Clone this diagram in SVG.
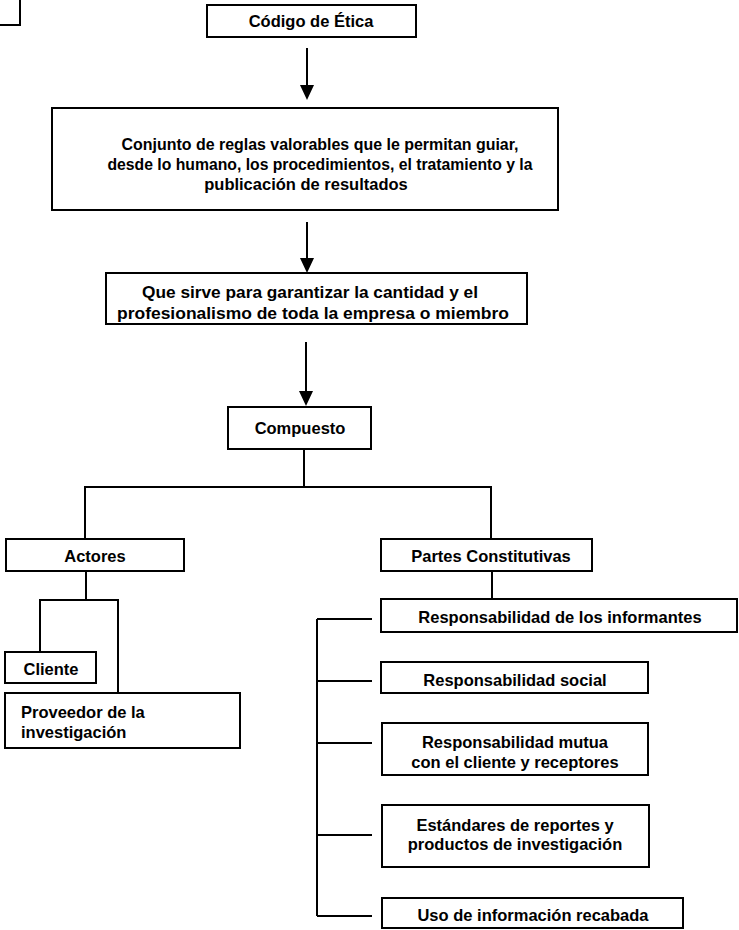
<svg xmlns="http://www.w3.org/2000/svg" width="739" height="930" viewBox="0 0 739 930">
<defs>
<style>
.box{fill:#fff;stroke:#000;stroke-width:2}
.ln{fill:none;stroke:#000;stroke-width:2}
.head{fill:#000}
text{font-family:"Liberation Sans",Arial,sans-serif;font-size:16.5px;font-weight:bold;fill:#000}
.c{text-anchor:middle}
</style>
</defs>
<rect width="739" height="930" fill="#fff"/>
<g id="connectors">
<path class="ln" d="M0,25 H20 V0"/>
<line class="ln" x1="307" y1="48" x2="307" y2="86"/>
<path class="head" d="M300,85 L314,85 L307,100 Z"/>
<line class="ln" x1="307" y1="222" x2="307" y2="259"/>
<path class="head" d="M300,258 L314,258 L307,273 Z"/>
<line class="ln" x1="306" y1="342" x2="306" y2="392"/>
<path class="head" d="M299,391 L313,391 L306,406 Z"/>
<path class="ln" d="M304,449 V487 M85,539 V487 H491 V539"/>
<path class="ln" d="M86,571 V600 M40,652 V600 H118 V693"/>
<path class="ln" d="M492,571 V599"/>
<path class="ln" d="M317,619 V916 M317,619 H372 M317,681 H372 M317,743 H372 M317,835 H372 M317,916 H372"/>
</g>
<g id="codigo">
<rect class="box" x="207" y="5" width="209" height="32"/>
<text class="c" x="311" y="27">Código de Ética</text>
</g>
<g id="conjunto">
<rect class="box" x="52" y="108" width="506" height="102"/>
<text class="c" x="320" y="150" textLength="397" lengthAdjust="spacingAndGlyphs">Conjunto de reglas valorables que le permitan guiar,</text>
<text class="c" x="320" y="170" textLength="425" lengthAdjust="spacingAndGlyphs">desde lo humano, los procedimientos, el tratamiento y la</text>
<text class="c" x="306" y="190">publicación de resultados</text>
</g>
<g id="sirve">
<rect class="box" x="106" y="273" width="421" height="51"/>
<text class="c" x="310" y="298" textLength="336" lengthAdjust="spacingAndGlyphs">Que sirve para garantizar la cantidad y el</text>
<text class="c" x="313" y="319" textLength="392" lengthAdjust="spacingAndGlyphs">profesionalismo de toda la empresa o miembro</text>
</g>
<g id="compuesto">
<rect class="box" x="228" y="407" width="143" height="42"/>
<text class="c" x="300" y="434">Compuesto</text>
</g>
<g id="actores">
<rect class="box" x="6" y="539" width="178" height="32"/>
<text class="c" x="95" y="562">Actores</text>
</g>
<g id="partes">
<rect class="box" x="381" y="539" width="211" height="32"/>
<text class="c" x="491" y="562">Partes Constitutivas</text>
</g>
<g id="cliente">
<rect class="box" x="5" y="652" width="91" height="31"/>
<text class="c" x="51" y="675">Cliente</text>
</g>
<g id="proveedor">
<rect class="box" x="5" y="693" width="235" height="55"/>
<text x="21" y="718">Proveedor de la</text>
<text x="21" y="738">investigación</text>
</g>
<g id="informantes">
<rect class="box" x="381" y="599" width="356" height="33"/>
<text class="c" x="560" y="623">Responsabilidad de los informantes</text>
</g>
<g id="social">
<rect class="box" x="381" y="662" width="267" height="31"/>
<text class="c" x="515" y="686">Responsabilidad social</text>
</g>
<g id="mutua">
<rect class="box" x="382" y="723" width="266" height="52"/>
<text class="c" x="515" y="748">Responsabilidad mutua</text>
<text class="c" x="515" y="768">con el cliente y receptores</text>
</g>
<g id="estandares">
<rect class="box" x="382" y="805" width="267" height="62"/>
<text class="c" x="515" y="831">Estándares de reportes y</text>
<text class="c" x="515" y="850">productos de investigación</text>
</g>
<g id="uso">
<rect class="box" x="382" y="898" width="301" height="30"/>
<text class="c" x="533" y="921">Uso de información recabada</text>
</g>
</svg>
